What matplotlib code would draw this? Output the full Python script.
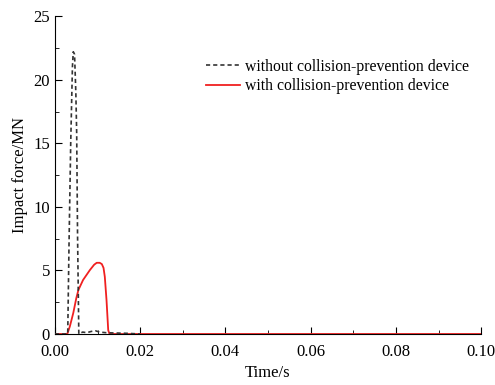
import matplotlib.pyplot as plt
from matplotlib.ticker import MultipleLocator

plt.rcParams['font.family'] = ['Liberation Serif', 'DejaVu Serif']

# without collision-prevention device
t_without = [0.0, 0.0030, 0.0033, 0.0037, 0.0041, 0.0043, 0.0046, 0.0049, 0.0051, 0.0053, 0.0056,
             0.0065, 0.0075, 0.0085, 0.0095, 0.0105, 0.0120, 0.0140, 0.0170, 0.0200]
f_without = [0.0, 0.0, 7.0, 15.0, 21.0, 22.2, 22.0, 19.0, 15.8, 7.9, 0.0,
             0.15, 0.1, 0.2, 0.25, 0.15, 0.1, 0.08, 0.05, 0.0]

# with collision-prevention device
t_with = [0.0, 0.0029, 0.0035, 0.0043, 0.0050, 0.0055, 0.0066, 0.0082, 0.0092, 0.0098, 0.0105,
          0.0110, 0.0114, 0.0117, 0.0121, 0.0125, 0.0128, 0.1000]
f_with = [0.0, 0.0, 0.6, 1.65, 2.8, 3.46, 4.25, 5.03, 5.45, 5.6, 5.6,
          5.5, 5.2, 4.5, 2.67, 0.3, 0.0, 0.0]

fig = plt.figure(figsize=(4.95, 3.85), dpi=100)
ax = fig.add_axes([0.111, 0.1325, 0.861, 0.8255])

ax.plot(t_without, f_without, color='#333333', linestyle=(0, (2.5, 1.8)), linewidth=1.2,
        label='without collision-prevention device', zorder=3)
ax.plot(t_with, f_with, color='#f02020', linewidth=1.3,
        label='with collision-prevention device', zorder=2)

ax.set_xlim(0, 0.1)
ax.set_ylim(0, 25)
ax.xaxis.set_major_locator(MultipleLocator(0.02))
ax.xaxis.set_minor_locator(MultipleLocator(0.01))
ax.yaxis.set_major_locator(MultipleLocator(5))
ax.yaxis.set_minor_locator(MultipleLocator(2.5))
ax.xaxis.set_major_formatter(plt.FormatStrFormatter('%.2f'))
ax.tick_params(which='both', direction='in', labelsize=12)
ax.tick_params(which='major', length=5)
ax.tick_params(which='minor', length=3)
ax.tick_params(axis='x', pad=7)
ax.spines['top'].set_visible(False)
ax.spines['right'].set_visible(False)

ax.set_xlabel('Time/s', fontsize=12, labelpad=4)
ax.set_ylabel('Impact force/MN', fontsize=12)

ax.legend(loc='upper right', bbox_to_anchor=(1.005, 0.91), frameon=False, fontsize=11.3,
          handlelength=2.2, handletextpad=0.3, labelspacing=0.22)

fig.savefig('out.png', dpi=100)
